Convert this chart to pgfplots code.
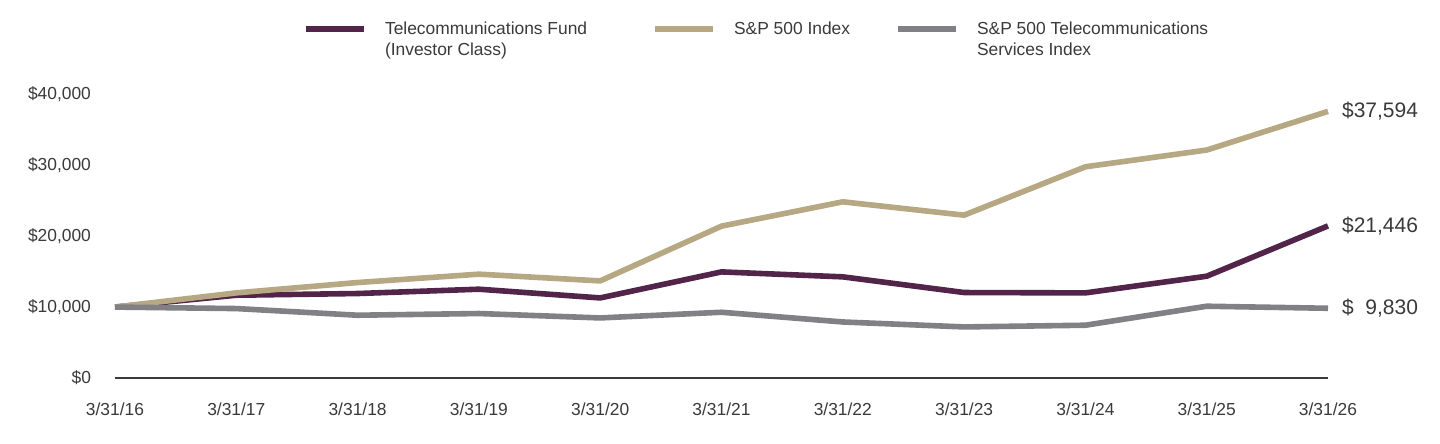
\documentclass[border=0pt]{standalone}
\usepackage{fontspec}
\setmainfont{Liberation Sans}
\usepackage{pgfplots}
\pgfplotsset{compat=1.18}
\definecolor{fund}{HTML}{522449}
\definecolor{spx}{HTML}{B5A882}
\definecolor{tel}{HTML}{808085}
\definecolor{txt}{HTML}{3A3A3A}
\begin{document}
\begin{tikzpicture}
\useasboundingbox (0,0) rectangle (720pt,222pt);
\begin{axis}[
  at={(57.5pt,33pt)}, anchor=south west,
  scale only axis, width=606.5pt, height=141.85pt,
  xmin=0, xmax=10, ymin=0, ymax=40000,
  clip=false,
  scaled y ticks=false,
  axis x line*=bottom, axis y line*=left,
  y axis line style={draw=none},
  x axis line style={draw=txt, line width=1pt},
  major tick length=0pt,
  xtick={0,...,10},
  xticklabels={3/31/16,3/31/17,3/31/18,3/31/19,3/31/20,3/31/21,3/31/22,3/31/23,3/31/24,3/31/25,3/31/26},
  ytick={0,10000,20000,30000,40000},
  yticklabels={{\$0},{\$10,000},{\$20,000},{\$30,000},{\$40,000}},
  tick label style={font=\fontsize{8.7}{10}\selectfont, text=txt},
  xticklabel style={anchor=north, yshift=-9pt},
  yticklabel style={anchor=east, xshift=-8.5pt},
  legend columns=3,
  legend cell align=left,
  legend style={at={(0.1547,1.258)}, anchor=north west, draw=none, fill=none, inner sep=0pt,
    font=\fontsize{8.7}{10.5}\selectfont,
    /tikz/every odd column/.append style={column sep=9pt},
    nodes={inner sep=0pt, text=txt}},
  legend image code/.code={\draw[#1, line width=3pt] (0pt,0pt) -- (29pt,0pt);},
  every axis plot/.append style={line width=2.8pt, line join=round},
]
\addplot[fund] coordinates {(0,10000) (1,11670) (2,11910) (3,12520) (4,11290) (5,14960) (6,14260) (7,12050) (8,12000) (9,14350) (10,21446)};
\addlegendentry{\parbox[t]{133.5pt}{Telecommunications Fund\\(Investor Class)}}
\addplot[spx] coordinates {(0,10000) (1,12000) (2,13460) (3,14640) (4,13690) (5,21410) (6,24840) (7,22960) (8,29780) (9,32140) (10,37594)};
\addlegendentry{\parbox[t]{80.5pt}{S\&P 500 Index}}
\addplot[tel] coordinates {(0,10000) (1,9790) (2,8850) (3,9090) (4,8470) (5,9270) (6,7900) (7,7200) (8,7440) (9,10120) (10,9830)};
\addlegendentry{\parbox[t]{120pt}{S\&P 500 Telecommunications\\Services Index}}
\node[anchor=west, xshift=3.5pt, font=\fontsize{10.5}{12}\selectfont, text=txt] at (axis cs:10,37594) {\$37,594};
\node[anchor=west, xshift=3.5pt, font=\fontsize{10.5}{12}\selectfont, text=txt] at (axis cs:10,21446) {\$21,446};
\node[anchor=west, xshift=3.5pt, font=\fontsize{10.5}{12}\selectfont, text=txt] at (axis cs:10,9830) {\$\phantom{0}9,830};
\end{axis}
\end{tikzpicture}
\end{document}
